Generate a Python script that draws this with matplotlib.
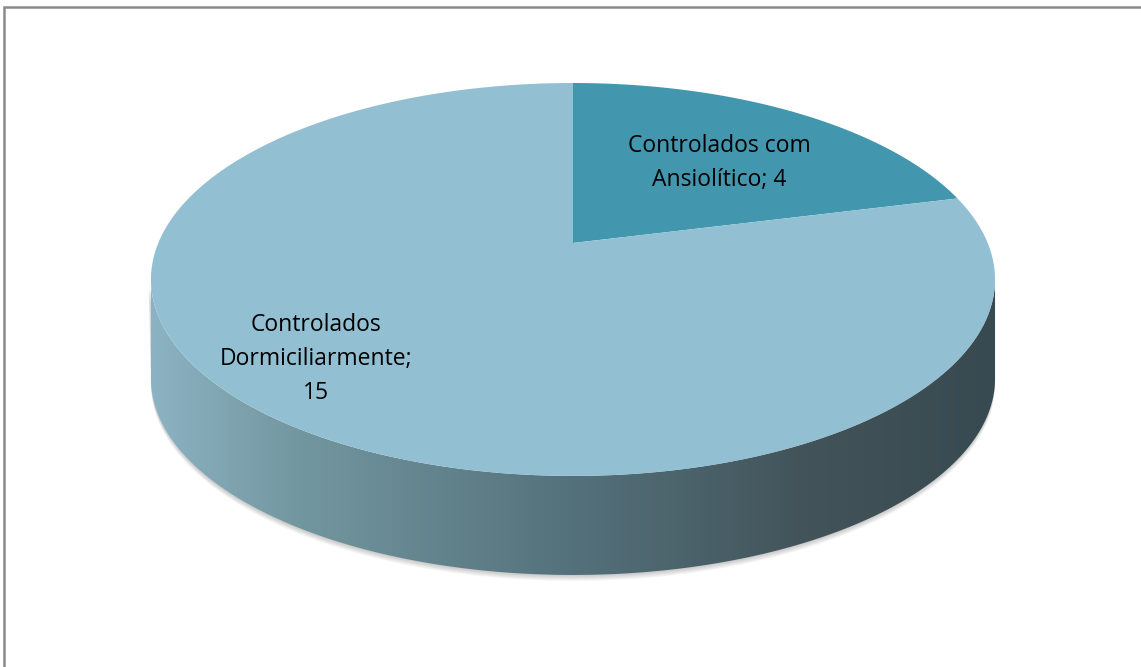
import numpy as np
import matplotlib.pyplot as plt
from matplotlib.patches import Polygon
from matplotlib.colors import LinearSegmentedColormap

# data
names = ['Controlados com\nAnsiolítico', 'Controlados\nDormiciliarmente']
values = [4, 15]
seps = ['; ', ';\n']
top_colors = ['#4297ae', '#92c0d2']
label_pos = [(719, 163), (316, 359)]

# projection of the pie disc (pixel space, perspective view)
CX, CY = 573, 243      # vertex of the slices
K, M, A = 414.7, 189.7, 0.1857
DEPTH = 99


def project(X, Y, drop=0.0):
    w = 1 + A * Y
    return CX + K * X / w, CY - M * Y / w + drop


fig = plt.figure(figsize=(11.41, 6.67), dpi=100)
ax = fig.add_axes([0, 0, 1, 1])
ax.set_xlim(0, 1141)
ax.set_ylim(667, 0)
ax.axis('off')

# chart frame: only top and left edges are inside the picture
ax.plot([4, 4, 1141], [667, 7, 7], color='#8a8a8a', lw=1.8, solid_joinstyle='miter')

# front side of the cylinder
th = np.linspace(0, 2 * np.pi, 4000)
sx, sy = project(np.cos(th), np.sin(th))
i_left = np.argmin(np.where(np.sin(th) < 0.2, sx, 1e9))
i_right = np.argmax(np.where(np.sin(th) < 0.2, sx, -1e9))
front = np.linspace(th[i_left], th[i_right] if th[i_right] > th[i_left] else th[i_right] + 2 * np.pi, 600)
tx, ty = project(np.cos(front), np.sin(front))
bx, by = project(np.cos(front), np.sin(front), DEPTH)

# soft shadow under the pie
for k in range(1, 7):
    sh = np.concatenate([np.c_[tx - k * 0.5, ty], np.c_[bx, by + k][::-1]])
    ax.add_patch(Polygon(sh, closed=True, facecolor='#000000', alpha=0.035, edgecolor='none'))

side_xy = np.concatenate([np.c_[tx, ty], np.c_[bx, by][::-1]])
side = Polygon(side_xy, closed=True, facecolor='none', edgecolor='none')
ax.add_patch(side)
side_cmap = LinearSegmentedColormap.from_list('side', [
    (0.0, '#8cb3c3'), (0.18, '#72969f'), (0.5, '#54717b'),
    (0.78, '#425359'), (1.0, '#384a51')])
grad = np.linspace(0, 1, 512)[None, :]
img = ax.imshow(grad, cmap=side_cmap, aspect='auto',
                extent=[tx.min(), tx.max(), by.max() + 2, ty.min()], zorder=2)
img.set_clip_path(side)

# top face slices, clockwise from 12 o'clock
total = sum(values)
start = np.pi / 2
for i, v in enumerate(values):
    end = start - 2 * np.pi * v / total
    a = np.linspace(start, end, 400)
    rx, ry = project(np.cos(a), np.sin(a))
    pts = np.concatenate([[project(0, 0)], np.c_[rx, ry]])
    ax.add_patch(Polygon(pts, closed=True, facecolor=top_colors[i], edgecolor='none', zorder=3))
    start = end

for i, v in enumerate(values):
    ax.text(label_pos[i][0], label_pos[i][1], f'{names[i]}{seps[i]}{v}',
            ha='center', va='center', fontsize=16.5, family='Open Sans',
            linespacing=1.55, color='black', zorder=5)

fig.savefig('out.png', dpi=100)
